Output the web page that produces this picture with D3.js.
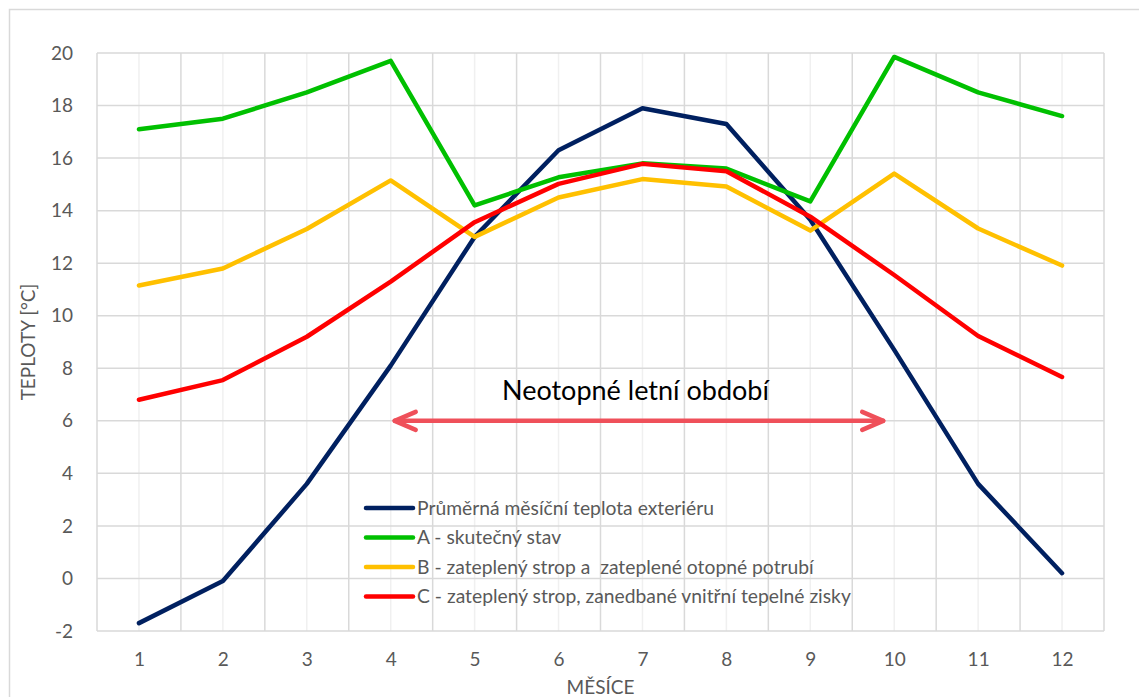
<!DOCTYPE html>
<html>
<head>
<meta charset="utf-8">
<script src="https://cdn.jsdelivr.net/npm/d3@7"></script>
<style>
  body { margin: 0; background: #fff; }
  svg text { font-family: Lato, "Open Sans", sans-serif; }
</style>
</head>
<body>
<svg id="graf" width="1139" height="697"></svg>
<script>
// data
var mesice = [1, 2, 3, 4, 5, 6, 7, 8, 9, 10, 11, 12];
var exterier = [-1.7, -0.1, 3.6, 8.1, 13.0, 16.3, 17.9, 17.3, 13.65, 8.7, 3.6, 0.2];
var stavA = [17.1, 17.5, 18.5, 19.7, 14.2, 15.27, 15.8, 15.6, 14.35, 19.85, 18.5, 17.6];
var stavB = [11.15, 11.8, 13.3, 15.15, 13.0, 14.5, 15.2, 14.92, 13.24, 15.41, 13.32, 11.91];
var stavC = [6.8, 7.55, 9.2, 11.3, 13.56, 15.02, 15.78, 15.5, 13.77, 11.55, 9.23, 7.67];
var yTicks = [-2, 0, 2, 4, 6, 8, 10, 12, 14, 16, 18, 20];

var serie = [
  { nazev: "Průměrná měsíční teplota exteriéru", hodnoty: exterier, barva: "#002060" },
  { nazev: "A - skutečný stav", hodnoty: stavA, barva: "#00c000" },
  { nazev: "B - zateplený strop a  zateplené otopné potrubí", hodnoty: stavB, barva: "#ffc000" },
  { nazev: "C - zateplený strop, zanedbané vnitřní tepelné zisky", hodnoty: stavC, barva: "#ff0000" }
];

var svg = d3.select("#graf");
var plotL = 97, plotR = 1104, plotT = 53, plotB = 631;

// chart frame (runs off the picture on the right and bottom)
svg.append("rect")
  .attr("x", 9.5).attr("y", 9.5)
  .attr("width", 1300).attr("height", 900)
  .attr("fill", "none").attr("stroke", "#d9d9d9").attr("stroke-width", 1.5);

var x = d3.scaleLinear().domain([0.5, 12.5]).range([plotL, plotR]);
var y = d3.scaleLinear().domain([-2, 20]).range([plotB, plotT]);

// minor vertical grid at months
svg.append("g").selectAll("line").data(mesice).join("line")
  .attr("x1", d => x(d)).attr("x2", d => x(d))
  .attr("y1", plotT).attr("y2", plotB)
  .attr("stroke", "#f0f0f0").attr("stroke-width", 1.5);

// major vertical grid between months
svg.append("g").selectAll("line").data(d3.range(0.5, 13, 1)).join("line")
  .attr("x1", d => x(d)).attr("x2", d => x(d))
  .attr("y1", plotT).attr("y2", plotB)
  .attr("stroke", "#d9d9d9").attr("stroke-width", 1.5);

// horizontal grid
svg.append("g").selectAll("line").data(yTicks).join("line")
  .attr("x1", plotL).attr("x2", plotR)
  .attr("y1", d => y(d)).attr("y2", d => y(d))
  .attr("stroke", "#d9d9d9").attr("stroke-width", 1.5);

// axes labels (plain hyphen for negatives, like the original)
var osaY = svg.append("g").attr("transform", "translate(" + (plotL - 8) + ",0)")
  .call(d3.axisLeft(y).tickValues(yTicks).tickFormat(d => String(d)).tickSize(0).tickPadding(16));
osaY.select(".domain").remove();
osaY.selectAll("text").attr("font-size", 19).attr("fill", "#595959")
  .style("font-family", "Lato, sans-serif");

var osaX = svg.append("g").attr("transform", "translate(0," + plotB + ")")
  .call(d3.axisBottom(x).tickValues(mesice).tickSize(0).tickPadding(22));
osaX.select(".domain").remove();
osaX.selectAll("text").attr("font-size", 19).attr("fill", "#595959")
  .style("font-family", "Lato, sans-serif");

svg.append("text")
  .attr("x", (plotL + plotR) / 2).attr("y", 694)
  .attr("text-anchor", "middle").attr("font-size", 19).attr("fill", "#595959")
  .text("MĚSÍCE");

svg.append("text")
  .attr("transform", "translate(35," + (plotT + plotB) / 2 + ") rotate(-90)")
  .attr("text-anchor", "middle").attr("font-size", 19).attr("fill", "#595959")
  .text("TEPLOTY [°C]");

// annotation of the non-heating summer period
var sipkaY = y(6);
var x1 = x(4) + 4, x2 = x(10) - 11;
var sipka = svg.append("g").attr("stroke", "#ef505a").attr("stroke-width", 4.5)
  .attr("stroke-linecap", "round").attr("stroke-linejoin", "round").attr("fill", "none");
sipka.append("line").attr("x1", x1).attr("x2", x2).attr("y1", sipkaY).attr("y2", sipkaY);
sipka.append("polyline").attr("points", [[x1 + 21, sipkaY - 9], [x1, sipkaY], [x1 + 21, sipkaY + 9]].join(" "));
sipka.append("polyline").attr("points", [[x2 - 21, sipkaY - 9], [x2, sipkaY], [x2 - 21, sipkaY + 9]].join(" "));

svg.append("text")
  .attr("x", x(7) - 7).attr("y", y(7) + 5)
  .attr("text-anchor", "middle").attr("font-size", 27).attr("fill", "#000")
  .text("Neotopné letní období");

// lines
var cara = d3.line().x((d, i) => x(mesice[i])).y(d => y(d));
svg.append("g").selectAll("path").data(serie).join("path")
  .attr("d", d => cara(d.hodnoty))
  .attr("fill", "none")
  .attr("stroke", d => d.barva)
  .attr("stroke-width", 4.5)
  .attr("stroke-linecap", "round")
  .attr("stroke-linejoin", "round");

// legend
var legenda = svg.append("g").attr("transform", "translate(366,508)");
var radek = legenda.selectAll("g").data(serie).join("g")
  .attr("transform", (d, i) => "translate(0," + i * 29.5 + ")");
radek.append("line")
  .attr("x1", 0).attr("x2", 47).attr("y1", 0).attr("y2", 0)
  .attr("stroke", d => d.barva).attr("stroke-width", 4.5).attr("stroke-linecap", "round");
radek.append("text")
  .attr("x", 51).attr("y", 6.5)
  .attr("font-size", 19.3).attr("fill", "#595959")
  .style("white-space", "pre")
  .text(d => d.nazev);
</script>
</body>
</html>
